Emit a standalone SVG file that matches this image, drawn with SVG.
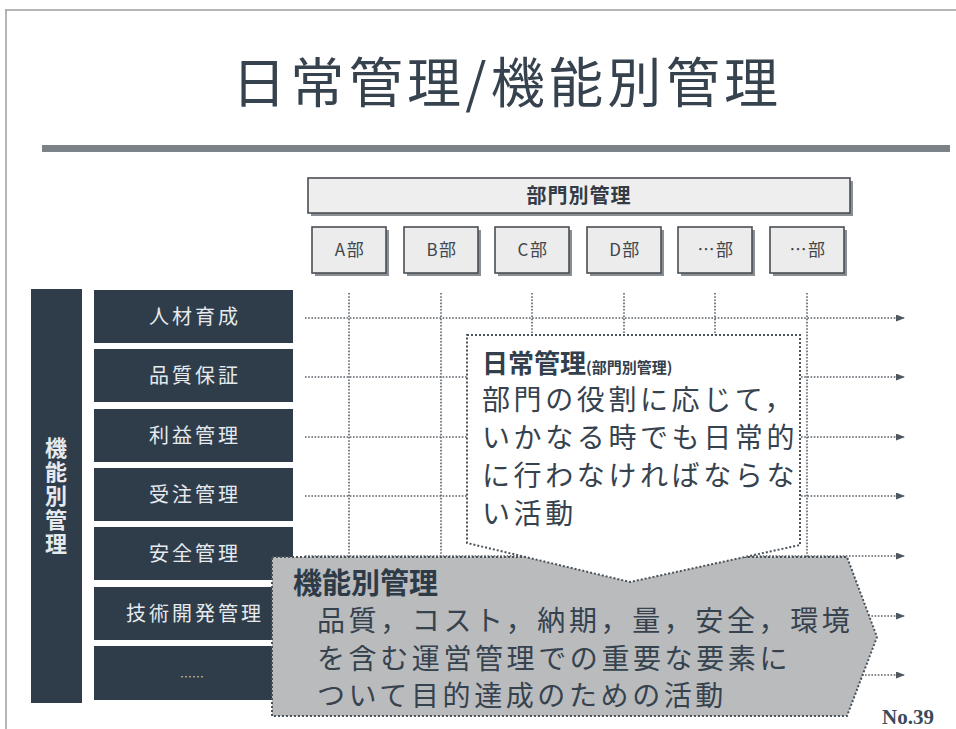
<svg xmlns="http://www.w3.org/2000/svg" width="956" height="729" viewBox="0 0 956 729">
<defs>
<marker id="ah" markerWidth="9" markerHeight="7" refX="8" refY="3.5" orient="auto" markerUnits="userSpaceOnUse"><path d="M0,0 L9,3.5 L0,7 z" fill="#4f5860"/></marker>
</defs>
<style>
.jp{font-family:"Noto Sans CJK JP","Noto Sans CJK SC",sans-serif}
.rowbox{fill:#2f3d4b}
.rowt{fill:#e6eaee;font-size:20px;text-anchor:middle;letter-spacing:3px}
.dbox{fill:#ececec;stroke:#4a4f55;stroke-width:1.6}
.dshadow{fill:#8a8f94}
.dt{fill:#3f464d;font-size:17px;text-anchor:middle;letter-spacing:1.5px}
.dot{stroke:#5a6169;stroke-width:1.6;stroke-dasharray:1.6 1.6;fill:none}
.call{fill:#ffffff;stroke:#4a525a;stroke-width:2;stroke-dasharray:2 2}
.gray{fill:#b9bbbd;stroke:#4a525a;stroke-width:2;stroke-dasharray:2 2}
.body{fill:#36424e;font-size:28px;letter-spacing:3.6px}
</style>
<rect x="0" y="0" width="956" height="729" fill="#ffffff"/>
<g id="frame">
<line x1="5" y1="10" x2="956" y2="10" stroke="#9a9ea2" stroke-width="1.5"/>
<line x1="6" y1="10" x2="6" y2="729" stroke="#9a9ea2" stroke-width="1.5"/>
</g>
<g id="title">
<text class="jp" x="505" y="103" font-size="54" fill="#36424e" text-anchor="middle" textLength="546" lengthAdjust="spacing">日常管理/機能別管理</text>
<rect x="42" y="145" width="908" height="7" fill="#7b8288"/>
</g>
<g id="dept-header">
<rect x="311" y="181" width="542" height="35" fill="#8a8f94"/>
<rect x="308" y="178" width="542" height="35" fill="#eeeeee" stroke="#4a4f55" stroke-width="1.6"/>
<text class="jp" x="579" y="203" font-size="20" font-weight="bold" fill="#333b44" text-anchor="middle" letter-spacing="1">部門別管理</text>
</g>
<g id="dept-A"><rect class="dshadow" x="315" y="230" width="74" height="46"/><rect class="dbox" x="312" y="227" width="74" height="46"/><text class="jp dt" x="350" y="256">A部</text></g>
<g id="dept-B"><rect class="dshadow" x="407" y="230" width="74" height="46"/><rect class="dbox" x="404" y="227" width="74" height="46"/><text class="jp dt" x="442" y="256">B部</text></g>
<g id="dept-C"><rect class="dshadow" x="498" y="230" width="74" height="46"/><rect class="dbox" x="495" y="227" width="74" height="46"/><text class="jp dt" x="533" y="256">C部</text></g>
<g id="dept-D"><rect class="dshadow" x="590" y="230" width="74" height="46"/><rect class="dbox" x="587" y="227" width="74" height="46"/><text class="jp dt" x="625" y="256">D部</text></g>
<g id="dept-E"><rect class="dshadow" x="681" y="230" width="74" height="46"/><rect class="dbox" x="678" y="227" width="74" height="46"/><text class="jp dt" x="716" y="256">…部</text></g>
<g id="dept-F"><rect class="dshadow" x="773" y="230" width="74" height="46"/><rect class="dbox" x="770" y="227" width="74" height="46"/><text class="jp dt" x="808" y="256">…部</text></g>
<g id="func-label">
<rect x="31" y="289" width="51" height="414" fill="#2f3d4b"/>
<text class="jp" x="56" y="437" font-size="22" font-weight="bold" fill="#e6eaee" writing-mode="tb" letter-spacing="2">機能別管理</text>
</g>
<g id="row-1"><rect class="rowbox" x="94" y="290" width="199" height="53"/><text class="jp rowt" x="195" y="324">人材育成</text></g>
<g id="row-2"><rect class="rowbox" x="94" y="349" width="199" height="53"/><text class="jp rowt" x="195" y="383">品質保証</text></g>
<g id="row-3"><rect class="rowbox" x="94" y="409" width="199" height="53"/><text class="jp rowt" x="195" y="443">利益管理</text></g>
<g id="row-4"><rect class="rowbox" x="94" y="468" width="199" height="53"/><text class="jp rowt" x="195" y="502">受注管理</text></g>
<g id="row-5"><rect class="rowbox" x="94" y="527" width="199" height="53"/><text class="jp rowt" x="195" y="561">安全管理</text></g>
<g id="row-6"><rect class="rowbox" x="94" y="587" width="199" height="53"/><text class="jp rowt" x="195" y="621">技術開発管理</text></g>
<g id="row-7"><rect class="rowbox" x="94" y="646" width="199" height="54"/><text class="jp" x="192" y="682" font-size="12" fill="#c8ccd0" text-anchor="middle">……</text></g>
<g id="connectors">
<line class="dot" x1="349" y1="293" x2="349" y2="560"/>
<line class="dot" x1="441" y1="293" x2="441" y2="560"/>
<line class="dot" x1="532" y1="293" x2="532" y2="560"/>
<line class="dot" x1="624" y1="293" x2="624" y2="560"/>
<line class="dot" x1="715" y1="293" x2="715" y2="560"/>
<line class="dot" x1="807" y1="293" x2="807" y2="560"/>
<line class="dot" x1="305" y1="318" x2="904" y2="318" marker-end="url(#ah)"/>
<line class="dot" x1="305" y1="377" x2="904" y2="377" marker-end="url(#ah)"/>
<line class="dot" x1="305" y1="437" x2="904" y2="437" marker-end="url(#ah)"/>
<line class="dot" x1="305" y1="496" x2="904" y2="496" marker-end="url(#ah)"/>
<line class="dot" x1="305" y1="556" x2="904" y2="556" marker-end="url(#ah)"/>
<line class="dot" x1="305" y1="616" x2="904" y2="616" marker-end="url(#ah)"/>
<line class="dot" x1="305" y1="675" x2="904" y2="675" marker-end="url(#ah)"/>
</g>
<g id="func-mgmt">
<path class="gray" d="M272,557 L847,557 L877,637 L847,716 L272,716 Z"/>
<text class="jp" x="293" y="594" font-size="29" font-weight="bold" fill="#2d3a47">機能別管理</text>
<text class="jp body" x="317" y="631">品質，コスト，納期，量，安全，環境</text>
<text class="jp body" x="317" y="669">を含む運営管理での重要な要素に</text>
<text class="jp body" x="317" y="706">ついて目的達成のための活動</text>
</g>
<g id="daily-mgmt">
<path class="call" d="M467,335 L800,335 L800,545 L630,582 L467,543 Z"/>
<text class="jp" x="482" y="373" font-weight="bold" fill="#33404c"><tspan font-size="26">日常管理</tspan><tspan font-size="15">(部門別管理)</tspan></text>
<text class="jp body" x="482" y="410">部門の役割に応じて，</text>
<text class="jp body" x="482" y="448">いかなる時でも日常的</text>
<text class="jp body" x="482" y="486">に行わなければならな</text>
<text class="jp body" x="482" y="524">い活動</text>
</g>
<g id="page-no">
<text x="882" y="724" font-family="Liberation Serif, serif" font-size="21" font-weight="bold" fill="#3a4a5a">No.39</text>
</g>
</svg>
